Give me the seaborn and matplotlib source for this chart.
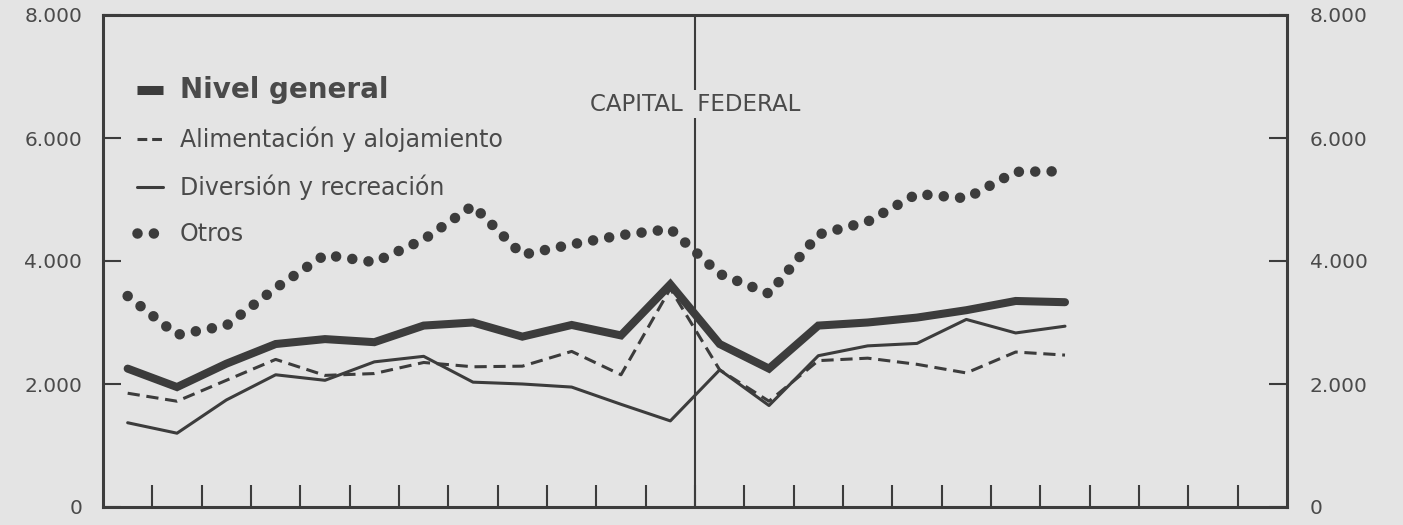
import matplotlib
matplotlib.use("Agg")
import matplotlib.pyplot as plt
from matplotlib.lines import Line2D
from matplotlib.ticker import FuncFormatter
import seaborn as sns
import pandas as pd

# ---- data ----
periods = [k + 0.5 for k in range(20)]
nivel_general = [2250, 1950, 2330, 2650, 2730, 2680, 2950, 3000, 2770, 2960,
                 2790, 3620, 2650, 2250, 2950, 3000, 3080, 3200, 3350, 3330]
alimentacion = [1850, 1720, 2060, 2400, 2140, 2170, 2350, 2280, 2290, 2530,
                2150, 3550, 2230, 1720, 2380, 2420, 2320, 2180, 2520, 2470]
diversion = [1370, 1200, 1740, 2150, 2060, 2360, 2450, 2030, 2000, 1950,
             1670, 1400, 2230, 1650, 2460, 2620, 2660, 3050, 2830, 2940]
otros = [3430, 2800, 2950, 3560, 4100, 3980, 4350, 4900, 4100, 4270,
         4420, 4520, 3790, 3470, 4430, 4640, 5090, 5020, 5450, 5460]

y_ticks = [0, 2000, 4000, 6000, 8000]
x_ticks = list(range(1, 24))
labels = ["Nivel general", "Alimentación y alojamiento",
          "Diversión y recreación", "Otros"]
region_label = "CAPITAL  FEDERAL"

BG = "#e4e4e4"
INK = "#3c3c3c"
TXT = "#4a4a4a"

sns.set_theme(style="white")
plt.rcParams["font.family"] = ["DejaVu Sans"]

df = pd.DataFrame({"x": periods, "ng": nivel_general, "al": alimentacion,
                   "dv": diversion, "ot": otros})

fig = plt.figure(figsize=(14.03, 5.25), dpi=100, facecolor=BG)
ax = fig.add_axes([103 / 1403, 1 - 507 / 525, (1287 - 103) / 1403, (507 - 15) / 525])
ax.set_facecolor(BG)

sns.lineplot(data=df, x="x", y="ot", ax=ax, color=INK, linewidth=7.6,
             linestyle=(0, (0.001, 1.55)), dash_capstyle="round")
sns.lineplot(data=df, x="x", y="dv", ax=ax, color=INK, linewidth=2.2)
sns.lineplot(data=df, x="x", y="al", ax=ax, color=INK, linewidth=2.2,
             linestyle=(0, (4, 2.2)))
sns.lineplot(data=df, x="x", y="ng", ax=ax, color=INK, linewidth=5.8,
             solid_joinstyle="miter")

ax.set_xlim(0, 24)
ax.set_ylim(0, 8000)
ax.set_xlabel("")
ax.set_ylabel("")

# vertical divider
ax.axvline(12, color=INK, linewidth=1.5, zorder=1)

for s in ax.spines.values():
    s.set_color(INK)
    s.set_linewidth(2.2)

ax.set_xticks(x_ticks)
ax.set_xticklabels([])
ax.tick_params(axis="x", direction="in", length=16, width=1.5, color=INK,
               bottom=True, top=False)

fmt = FuncFormatter(lambda v, p: f"{int(v):,}".replace(",", "."))
ax.set_yticks(y_ticks)
ax.yaxis.set_major_formatter(fmt)
ax.tick_params(axis="y", direction="in", length=13, width=1.5, color=INK,
               left=True, labelsize=14.5, labelcolor=TXT, pad=15)

ax2 = ax.twinx()
ax2.set_ylim(0, 8000)
ax2.set_yticks(y_ticks)
ax2.yaxis.set_major_formatter(fmt)
ax2.tick_params(axis="y", direction="in", length=13, width=1.5, color=INK,
                right=True, labelsize=14.5, labelcolor=TXT, pad=16.5)
for s in ax2.spines.values():
    s.set_visible(False)
ax2.grid(False)
ax.grid(False)

ax.text(12, 6550, region_label, ha="center", va="center", fontsize=16.5,
        color=TXT, zorder=3,
        bbox=dict(facecolor=BG, edgecolor="none", pad=2))

handles = [
    Line2D([], [], color=INK, linewidth=6.5, solid_capstyle="butt"),
    Line2D([], [], color=INK, linewidth=2.2, linestyle=(0, (3.2, 1.6))),
    Line2D([], [], color=INK, linewidth=2.2),
    Line2D([], [], color=INK, linewidth=7.6, linestyle=(0, (0.001, 1.55)),
           dash_capstyle="round"),
]
leg = ax.legend(handles, labels, loc="upper left",
                bbox_to_anchor=(0.0287, 0.876), frameon=False, fontsize=17,
                handlelength=1.1, handletextpad=0.72, labelspacing=0.95,
                borderaxespad=0, borderpad=0)
for t in leg.get_texts():
    t.set_color(TXT)
leg.get_texts()[0].set_fontweight("bold")
leg.get_texts()[0].set_fontsize(20)

fig.savefig("out.png", dpi=100, facecolor=BG)
